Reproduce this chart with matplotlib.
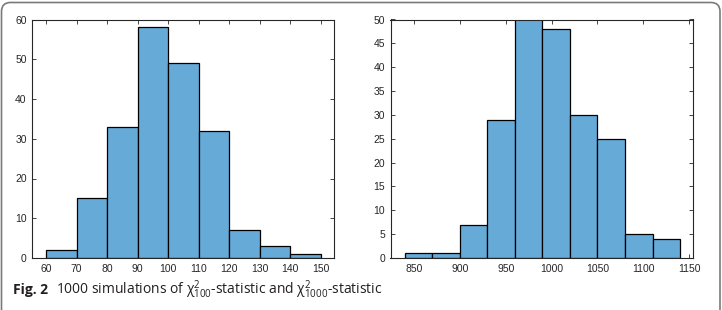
import matplotlib
matplotlib.use("Agg")
import matplotlib.pyplot as plt
from matplotlib.patches import FancyBboxPatch
from matplotlib.transforms import IdentityTransform
import numpy as np

# Left histogram (chi^2 with 100 dof)
left_edges = [60, 70, 80, 90, 100, 110, 120, 130, 140, 150]
left_counts = [2, 15, 33, 58, 49, 32, 7, 3, 1]
left_xticks = [60, 70, 80, 90, 100, 110, 120, 130, 140, 150]
left_yticks = [0, 10, 20, 30, 40, 50, 60]

# Right histogram (chi^2 with 1000 dof)
right_edges = [840, 870, 900, 930, 960, 990, 1020, 1050, 1080, 1110, 1140]
right_counts = [1, 1, 7, 29, 50, 48, 30, 25, 5, 4]
right_xticks = [850, 900, 950, 1000, 1050, 1100, 1150]
right_yticks = [0, 5, 10, 15, 20, 25, 30, 35, 40, 45, 50]

W, H = 722, 310
fig = plt.figure(figsize=(W / 100, H / 100), dpi=100)
plt.rcParams['font.family'] = ['Liberation Sans', 'DejaVu Sans']
plt.rcParams['mathtext.fontset'] = 'custom'
plt.rcParams['mathtext.rm'] = 'Open Sans'
plt.rcParams['mathtext.it'] = 'Open Sans:italic'
plt.rcParams['mathtext.bf'] = 'Open Sans:bold'

face = (0.40, 0.668, 0.845)
axcol = (0.15, 0.15, 0.15)


def px_axes(x0, y0, x1, y1):
    return fig.add_axes([x0 / W, 1 - y1 / H, (x1 - x0) / W, (y1 - y0) / H])


def draw(ax, edges, counts, xticks, yticks, xlim, ylim):
    edges = np.asarray(edges, dtype=float)
    ax.bar(edges[:-1], counts, width=np.diff(edges), align='edge',
           color=face, edgecolor='black', linewidth=0.9, zorder=2)
    ax.set_xlim(*xlim)
    ax.set_ylim(*ylim)
    ax.set_xticks(xticks)
    ax.set_yticks(yticks)
    ax.tick_params(direction='in', length=3, width=0.6, top=True, right=True,
                   labelsize=7.5, colors=axcol, pad=4)
    for s in ax.spines.values():
        s.set_linewidth(0.8)
        s.set_color(axcol)


ax1 = px_axes(32.3, 19.5, 334, 258)
draw(ax1, left_edges, left_counts, left_xticks, left_yticks, (55.5, 154.4), (0, 60))

ax2 = px_axes(390.5, 19.5, 692.5, 258)
draw(ax2, right_edges, right_counts, right_xticks, right_yticks, (824.5, 1153.5), (0, 50))

# outer rounded frame (pixel coordinates, origin bottom-left)
frame = FancyBboxPatch((1.5, -40), W - 3.5, H - 2.5 + 40,
                       boxstyle="round,pad=0,rounding_size=9",
                       transform=IdentityTransform(), fill=False,
                       edgecolor='#7a7a7a', linewidth=1.2)
fig.patches.append(frame)

cap_font = ['Open Sans', 'DejaVu Sans']
fig.text(13 / W, 1 - 294 / H, "Fig. 2", fontsize=10, fontweight='bold',
         family=cap_font, color='#231f20', va='baseline')
fig.text(56 / W, 1 - 294 / H,
         "1000 simulations of $\\mathregular{χ^2_{100}}$-statistic and "
         "$\\mathregular{χ^2_{1000}}$-statistic",
         fontsize=10, family=cap_font, color='#231f20', va='baseline')

fig.savefig("out.png", dpi=100)
